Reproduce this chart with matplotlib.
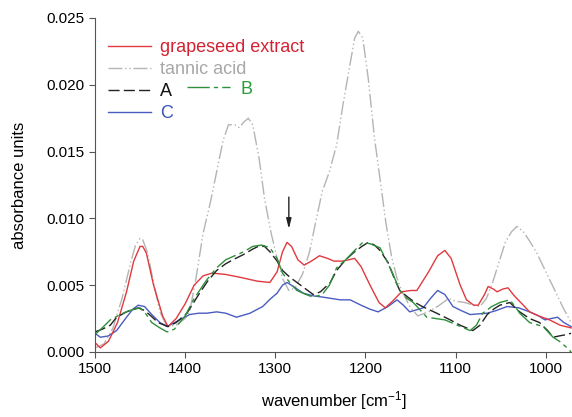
import matplotlib
matplotlib.use("Agg")
import matplotlib.pyplot as plt
from matplotlib.lines import Line2D

plt.rcParams['font.family'] = ['Liberation Sans', 'DejaVu Sans']
plt.rcParams['mathtext.default'] = 'regular'

# grapeseed extract
x_grape = [1500, 1494, 1485, 1475, 1465, 1457, 1450, 1447, 1443, 1435, 1425, 1419, 1410, 1400,
           1390, 1380, 1370, 1355, 1340, 1320, 1306, 1298, 1292, 1287, 1282, 1275, 1268, 1260,
           1251, 1242, 1235, 1225, 1212, 1205, 1195, 1185, 1178, 1170, 1160, 1150, 1143, 1130,
           1120, 1112, 1105, 1095, 1088, 1080, 1075, 1068, 1064, 1058, 1054, 1048, 1042, 1035,
           1025, 1018, 1008, 996, 984, 972]
y_grape = [0.0007, 0.0003, 0.0008, 0.0022, 0.0045, 0.0068, 0.0079, 0.0079, 0.0074, 0.0050,
           0.0027, 0.0019, 0.0025, 0.0036, 0.0050, 0.0057, 0.0059, 0.0058, 0.0056, 0.0053,
           0.0052, 0.0060, 0.0075, 0.0082, 0.0079, 0.0069, 0.0065, 0.0068, 0.0072, 0.0070,
           0.0068, 0.0068, 0.0070, 0.0064, 0.0050, 0.0037, 0.0033, 0.0038, 0.0045, 0.0046,
           0.0046, 0.0060, 0.0072, 0.0076, 0.0070, 0.0050, 0.0039, 0.0035, 0.0035, 0.0043,
           0.0049, 0.0047, 0.0045, 0.0047, 0.0048, 0.0042, 0.0035, 0.0030, 0.0027, 0.0024,
           0.0020, 0.0018]

# tannic acid
x_tannic = [1500, 1490, 1480, 1470, 1460, 1455, 1450, 1447, 1442, 1435, 1428, 1420, 1410, 1400,
            1395, 1388, 1380, 1372, 1365, 1358, 1352, 1345, 1340, 1335, 1330, 1325, 1318, 1312,
            1305, 1298, 1292, 1285, 1278, 1270, 1262, 1255, 1248, 1240, 1232, 1225, 1218, 1212,
            1208, 1203, 1197, 1190, 1183, 1177, 1171, 1165, 1160, 1150, 1142, 1130, 1118, 1108,
            1100, 1090, 1080, 1073, 1066, 1059, 1052, 1045, 1038, 1032, 1025, 1018, 1010, 1000,
            990, 980, 972]
y_tannic = [0.0003, 0.0006, 0.0018, 0.0040, 0.0068, 0.0080, 0.0085, 0.0084, 0.0075, 0.0052,
            0.0030, 0.0019, 0.0020, 0.0025, 0.0030, 0.0055, 0.0089, 0.0112, 0.0135, 0.0158,
            0.0170, 0.0170, 0.0168, 0.0172, 0.0175, 0.0170, 0.0145, 0.0115, 0.0090, 0.0070,
            0.0055, 0.0046, 0.0048, 0.0058, 0.0075, 0.0098, 0.0120, 0.0135, 0.0155, 0.0185,
            0.0212, 0.0235, 0.0240, 0.0235, 0.0205, 0.0160, 0.0125, 0.0095, 0.0071, 0.0055,
            0.0046, 0.0033, 0.0027, 0.0030, 0.0035, 0.0040, 0.0038, 0.0037, 0.0035, 0.0034,
            0.0040, 0.0052, 0.0067, 0.0082, 0.0090, 0.0094, 0.0090, 0.0083, 0.0074, 0.0060,
            0.0046, 0.0032, 0.0022]

# sample A
x_a = [1500, 1492, 1483, 1476, 1465, 1452, 1445, 1438, 1430, 1419, 1410, 1398, 1384, 1375, 1365,
       1355, 1347, 1335, 1325, 1319, 1312, 1306, 1298, 1292, 1284, 1276, 1266, 1258, 1250, 1239,
       1232, 1222, 1212, 1204, 1197, 1190, 1184, 1175, 1168, 1162, 1153, 1145, 1137, 1121, 1106,
       1095, 1081, 1073, 1065, 1058, 1051, 1040, 1029, 1018, 1007, 998, 992, 985, 977, 972]
y_a = [0.0015, 0.0017, 0.0020, 0.0026, 0.0030, 0.0033, 0.0031, 0.0027, 0.0022, 0.0019, 0.0022,
       0.0029, 0.0044, 0.0053, 0.0061, 0.0066, 0.0069, 0.0073, 0.0077, 0.0079, 0.0079, 0.0075,
       0.0068, 0.0061, 0.0056, 0.0052, 0.0047, 0.0043, 0.0045, 0.0052, 0.0061, 0.0069, 0.0075,
       0.0079, 0.0082, 0.0080, 0.0076, 0.0067, 0.0055, 0.0046, 0.0041, 0.0037, 0.0034, 0.0029,
       0.0024, 0.0020, 0.0016, 0.0020, 0.0028, 0.0032, 0.0035, 0.0037, 0.0030, 0.0025, 0.0022,
       0.0016, 0.0011, 0.0012, 0.0013, 0.0014]

# sample B
x_b = [1500, 1492, 1483, 1472, 1462, 1450, 1443, 1437, 1428, 1420, 1412, 1400, 1390, 1376, 1365,
       1355, 1345, 1335, 1325, 1315, 1306, 1298, 1292, 1284, 1276, 1266, 1258, 1248, 1240, 1232,
       1222, 1212, 1203, 1195, 1184, 1177, 1170, 1162, 1154, 1147, 1132, 1112, 1098, 1084, 1077,
       1070, 1060, 1051, 1040, 1034, 1029, 1018, 1003, 992, 985, 978, 972]
y_b = [0.0013, 0.0018, 0.0024, 0.0028, 0.0031, 0.0033, 0.0028, 0.0022, 0.0018, 0.0015, 0.0017,
       0.0027, 0.0040, 0.0054, 0.0063, 0.0069, 0.0072, 0.0075, 0.0079, 0.0080, 0.0078, 0.0070,
       0.0059, 0.0052, 0.0046, 0.0043, 0.0041, 0.0043, 0.0050, 0.0063, 0.0069, 0.0076, 0.0082,
       0.0081, 0.0078, 0.0069, 0.0059, 0.0046, 0.0040, 0.0037, 0.0026, 0.0024, 0.0020, 0.0016,
       0.0020, 0.0029, 0.0034, 0.0037, 0.0039, 0.0034, 0.0029, 0.0022, 0.0019, 0.0011, 0.0008,
       0.0004, 0.0000]

# sample C
x_c = [1500, 1494, 1485, 1476, 1465, 1458, 1452, 1445, 1437, 1428, 1420, 1406, 1395, 1385, 1376,
       1365, 1355, 1343, 1328, 1314, 1305, 1298, 1292, 1287, 1280, 1269, 1258, 1247, 1228, 1217,
       1205, 1195, 1186, 1175, 1165, 1158, 1151, 1136, 1128, 1120, 1112, 1103, 1094, 1084, 1065,
       1055, 1043, 1030, 1018, 1008, 1001, 994, 987, 980, 972]
y_c = [0.0014, 0.0011, 0.0012, 0.0016, 0.0026, 0.0032, 0.0035, 0.0034, 0.0028, 0.0022, 0.0019,
       0.0024, 0.0028, 0.0029, 0.0029, 0.0030, 0.0029, 0.0026, 0.0029, 0.0034, 0.0040, 0.0044,
       0.0050, 0.0052, 0.0049, 0.0044, 0.0042, 0.0041, 0.0039, 0.0039, 0.0035, 0.0032, 0.0030,
       0.0034, 0.0039, 0.0035, 0.0030, 0.0033, 0.0040, 0.0046, 0.0043, 0.0034, 0.0031, 0.0028,
       0.0029, 0.0031, 0.0034, 0.0033, 0.0030, 0.0027, 0.0024, 0.0025, 0.0026, 0.0022, 0.0019]

x_ticks = [1500, 1400, 1300, 1200, 1100, 1000]
y_ticks = [0.000, 0.005, 0.010, 0.015, 0.020, 0.025]
arrow_x = 1285

fig = plt.figure(figsize=(5.72, 4.17), dpi=100)
ax = fig.add_axes([0.166, 0.156, 0.834, 0.801])

red = '#e0393e'
gray = '#b4b4b4'
black = '#222222'
green = '#2f8f3a'
blue = '#4a5cc0'

ax.plot(x_tannic, y_tannic, color=gray, lw=1.0, ls=(0, (10, 2, 1, 2, 1, 2)))
ax.plot(x_c, y_c, color=blue, lw=1.0)
ax.plot(x_grape, y_grape, color=red, lw=1.0)
ax.plot(x_a, y_a, color=black, lw=1.0, ls=(0, (8, 3)))
ax.plot(x_b, y_b, color=green, lw=1.0, ls=(0, (16, 3, 3, 3)))

ax.annotate('', xy=(arrow_x, 0.0090), xytext=(arrow_x, 0.0118),
            arrowprops=dict(arrowstyle='-|>,head_length=0.6,head_width=0.15', color='#222222', lw=1.0))

ax.set_xlim(1500, 971)
ax.set_ylim(0, 0.025)
ax.set_xticks(x_ticks)
ax.set_yticks(y_ticks)
ax.set_yticklabels(['%.3f' % v for v in y_ticks])
for s in ['top', 'right']:
    ax.spines[s].set_visible(False)
for s in ['left', 'bottom']:
    ax.spines[s].set_color('#555555')
ax.tick_params(direction='out', length=4, color='#555555', labelsize=11)
ax.set_xlabel('wavenumber [cm$^{-1}$]', fontsize=12, labelpad=9)
ax.set_ylabel('absorbance units', fontsize=12, labelpad=14)

h1 = [Line2D([], [], color=red, lw=1.0),
      Line2D([], [], color=gray, lw=1.0, ls=(0, (10, 2, 1, 2, 1, 2))),
      Line2D([], [], color=black, lw=1.0, ls=(0, (8, 3))),
      Line2D([], [], color=blue, lw=1.0)]
leg1 = ax.legend(h1, ['grapeseed extract', 'tannic acid', 'A', 'C'], loc='upper left',
                 bbox_to_anchor=(0.0, 0.975), frameon=False, fontsize=13, handlelength=2.4,
                 handletextpad=0.5, labelspacing=0.28, borderaxespad=0.3,
                 labelcolor=['#d42232', '#a8a8a8', '#111111', '#3a55b8'])
ax.add_artist(leg1)
h2 = [Line2D([], [], color=green, lw=1.0, ls=(0, (16, 3, 3, 3)))]
ax.legend(h2, ['B'], loc='upper left', bbox_to_anchor=(0.166, 0.85), frameon=False, fontsize=13,
          handlelength=2.4, handletextpad=0.6, borderaxespad=0.3, labelcolor=['#2a9a3a'])

fig.savefig('out.png', dpi=100)
